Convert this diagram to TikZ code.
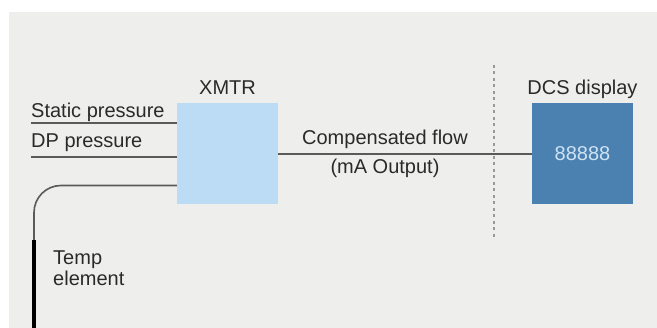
\documentclass[tikz,border=0pt]{standalone}
\usepackage{fontspec}
\setmainfont{Liberation Sans}
\definecolor{bg}{HTML}{EEEEEC}
\definecolor{xmtrfill}{HTML}{BBDCF4}
\definecolor{dcsfill}{HTML}{4A81B0}
\definecolor{txt}{HTML}{2A2A2A}
\definecolor{wire}{HTML}{5A5A5A}
\definecolor{digit}{HTML}{CFE2F3}
\begin{document}
\begin{tikzpicture}[x=1pt,y=-1pt,
  lbl/.style={text=txt,font=\fontsize{20}{21}\selectfont,inner sep=0pt},
  box/.style={minimum width=101pt,minimum height=101pt,inner sep=0pt,draw=none},
  wireline/.style={draw=wire,line width=1.6pt},
]
\useasboundingbox (0,0) rectangle (657,328);
\fill[white] (0,0) rectangle (657,328);
\fill[bg] (9,12) rectangle (657,328);
% boxes
\node[box,fill=xmtrfill] (xmtr) at (227.5,153.5) {};
\node[box,fill=dcsfill] (dcs) at (582.5,153.5) {};
\node[lbl,text=digit] (dig) at (dcs.center) {88888};
% labels
\node[lbl] (xl) at (227.5,88) {XMTR};
\node[lbl] (dl) at (582.5,89) {DCS display};
\node[lbl,anchor=west] (spl) at (31,112) {Static pressure};
\node[lbl,anchor=west] (dpl) at (31,143) {DP pressure};
\node[lbl] (cfl) at (385,139) {Compensated flow};
\node[lbl] (mal) at (385,168) {(mA Output)};
\node[lbl,anchor=north west,align=left] (tel) at (53,251) {Temp\\element};
% inputs
\coordinate (sp) at (31,123);
\coordinate (dp) at (31,157);
\coordinate (tp) at (34,240);
\coordinate (tb) at (34,330);
\draw[wireline] (sp) -- (sp -| xmtr.west);
\draw[wireline] (dp) -- (dp -| xmtr.west);
\draw[wireline,rounded corners=27pt] (xmtr.west |- 0,185.5) -- (tp |- 0,185.5) -- (tp);
\draw[black,line width=4pt] (tp) -- (tb);
% output
\draw[wireline] (xmtr.east |- 0,154) -- (dcs.west |- 0,154);
% divider
\coordinate (dvt) at (494,65);
\coordinate (dvb) at (494,238);
\draw[draw=black!40,line width=1.8pt,dash pattern=on 3pt off 3.5pt] (dvt) -- (dvb);
\end{tikzpicture}
\end{document}
